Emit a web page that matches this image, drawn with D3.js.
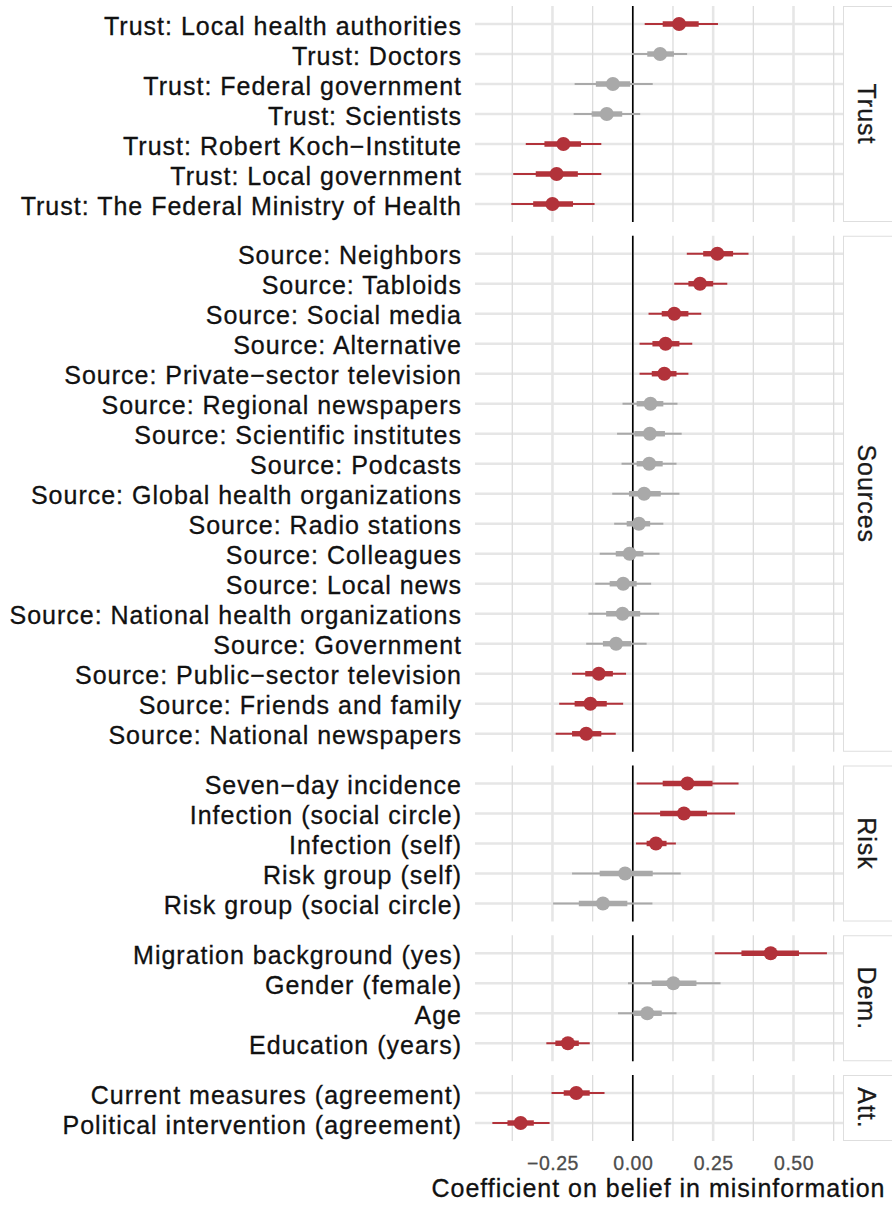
<!DOCTYPE html>
<html>
<head>
<meta charset="utf-8">
<script src="https://cdn.jsdelivr.net/npm/d3@7"></script>
<style>
  html, body { margin: 0; padding: 0; background: #ffffff; }
  svg { display: block; font-family: "Liberation Sans", Arial, Helvetica, sans-serif; }
</style>
</head>
<body>
<svg id="chart" width="892" height="1205"></svg>
<script>
// Facet groups, top to bottom
const panels = ["Trust", "Sources", "Risk", "Dem.", "Att."];

// Model terms, ordered top to bottom, with the facet each belongs to
const terms = [
  "Trust: Local health authorities", "Trust: Doctors", "Trust: Federal government",
  "Trust: Scientists", "Trust: Robert Koch\u2212Institute", "Trust: Local government",
  "Trust: The Federal Ministry of Health",
  "Source: Neighbors", "Source: Tabloids", "Source: Social media", "Source: Alternative",
  "Source: Private\u2212sector television", "Source: Regional newspapers",
  "Source: Scientific institutes", "Source: Podcasts", "Source: Global health organizations",
  "Source: Radio stations", "Source: Colleagues", "Source: Local news",
  "Source: National health organizations", "Source: Government",
  "Source: Public\u2212sector television", "Source: Friends and family",
  "Source: National newspapers",
  "Seven\u2212day incidence", "Infection (social circle)", "Infection (self)",
  "Risk group (self)", "Risk group (social circle)",
  "Migration background (yes)", "Gender (female)", "Age", "Education (years)",
  "Current measures (agreement)", "Political intervention (agreement)"
];
const termPanel = [
  "Trust", "Trust", "Trust", "Trust", "Trust", "Trust", "Trust",
  "Sources", "Sources", "Sources", "Sources", "Sources", "Sources", "Sources", "Sources", "Sources",
  "Sources", "Sources", "Sources", "Sources", "Sources", "Sources", "Sources", "Sources",
  "Risk", "Risk", "Risk", "Risk", "Risk",
  "Dem.", "Dem.", "Dem.", "Dem.",
  "Att.", "Att."
];

// Point estimates with 66% and 95% intervals
const estimate = [
  0.144, 0.085, -0.062, -0.081, -0.216, -0.237, -0.250,
  0.263, 0.209, 0.129, 0.102, 0.098, 0.055, 0.053, 0.051, 0.035,
  0.019, -0.010, -0.030, -0.032, -0.052, -0.106, -0.132, -0.145,
  0.170, 0.159, 0.072, -0.024, -0.093,
  0.429, 0.126, 0.045, -0.202,
  -0.176, -0.349
];
const lower66 = [
  0.093, 0.045, -0.115, -0.128, -0.275, -0.302, -0.310,
  0.219, 0.173, 0.090, 0.061, 0.059, 0.012, 0.005, 0.012, -0.012,
  -0.019, -0.053, -0.072, -0.083, -0.093, -0.148, -0.181, -0.189,
  0.093, 0.085, 0.043, -0.103, -0.168,
  0.338, 0.059, 0.002, -0.241,
  -0.215, -0.390
];
const upper66 = [
  0.205, 0.128, -0.008, -0.033, -0.161, -0.171, -0.186,
  0.312, 0.250, 0.173, 0.145, 0.136, 0.095, 0.100, 0.093, 0.087,
  0.054, 0.033, 0.012, 0.023, -0.005, -0.062, -0.081, -0.098,
  0.248, 0.231, 0.105, 0.062, -0.017,
  0.517, 0.198, 0.090, -0.168,
  -0.134, -0.308
];
const lower95 = [
  0.037, -0.003, -0.181, -0.184, -0.333, -0.372, -0.378,
  0.168, 0.129, 0.049, 0.021, 0.021, -0.032, -0.049, -0.035, -0.064,
  -0.058, -0.103, -0.117, -0.138, -0.145, -0.189, -0.229, -0.240,
  0.012, 0.002, 0.010, -0.189, -0.248,
  0.255, -0.015, -0.046, -0.269,
  -0.253, -0.437
];
const upper95 = [
  0.265, 0.169, 0.062, 0.023, -0.098, -0.098, -0.119,
  0.360, 0.294, 0.213, 0.185, 0.173, 0.139, 0.152, 0.136, 0.145,
  0.095, 0.083, 0.057, 0.082, 0.043, -0.021, -0.030, -0.053,
  0.329, 0.318, 0.134, 0.149, 0.061,
  0.604, 0.273, 0.136, -0.134,
  -0.088, -0.259
];

// Axis breaks and labels
const xBreaks = [-0.25, 0, 0.25, 0.5];
const xTitle = "Coefficient on belief in misinformation";

const rows = terms.map((t, i) => ({
  term: t, panel: termPanel[i], est: estimate[i],
  lo66: lower66[i], hi66: upper66[i], lo95: lower95[i], hi95: upper95[i],
  sig: lower95[i] > 0 || upper95[i] < 0
}));

const svg = d3.select("#chart");
const RED = "#b2323a", GREY = "#a9a9a9";
const panelLeft = 475, panelRight = 843;
const plotTop = 6, plotBottom = 1141, gap = 13.75;

const x = d3.scaleLinear().domain([-0.491, 0.654]).range([panelLeft, panelRight]);
const minorBreaks = [-0.375, -0.125, 0.125, 0.375, 0.625];

// shared text look: slightly heavier than the plain font
function labelStyle(sel, size, spacing, color) {
  sel.attr("fill", color)
    .attr("stroke", color).attr("stroke-width", 0.3)
    .style("font-size", size + "px")
    .style("letter-spacing", spacing + "px")
    .style("font-family", "'Liberation Sans', Arial, sans-serif");
}

// Panel heights follow the number of terms (discrete scale expanded by 0.6 on each side)
const counts = panels.map(p => rows.filter(r => r.panel === p).length);
const unit = (plotBottom - plotTop - gap * (panels.length - 1)) / d3.sum(counts, c => c + 0.2);

let panelTop = plotTop;
panels.forEach((p, pi) => {
  const data = rows.filter(r => r.panel === p);
  const h = (counts[pi] + 0.2) * unit;
  const y = d3.scalePoint().domain(data.map(d => d.term)).range([panelTop, panelTop + h]).padding(0.6);
  const g = svg.append("g");

  // grid
  g.selectAll(".hgrid").data(data).join("line")
    .attr("x1", panelLeft).attr("x2", panelRight)
    .attr("y1", d => y(d.term)).attr("y2", d => y(d.term))
    .attr("stroke", "#e6e6e6").attr("stroke-width", 2.4);
  g.selectAll(".vminor").data(minorBreaks).join("line")
    .attr("x1", d => x(d)).attr("x2", d => x(d))
    .attr("y1", panelTop).attr("y2", panelTop + h)
    .attr("stroke", "#dcdcdc").attr("stroke-width", 1.3);
  g.selectAll(".vmajor").data(xBreaks).join("line")
    .attr("x1", d => x(d)).attr("x2", d => x(d))
    .attr("y1", panelTop).attr("y2", panelTop + h)
    .attr("stroke", "#e6e6e6").attr("stroke-width", 2.6);

  // zero reference
  g.append("line")
    .attr("x1", x(0)).attr("x2", x(0)).attr("y1", panelTop).attr("y2", panelTop + h)
    .attr("stroke", "#000000").attr("stroke-width", 1.6);

  // intervals and points
  g.selectAll(".ci95").data(data).join("line")
    .attr("x1", d => x(d.lo95)).attr("x2", d => x(d.hi95))
    .attr("y1", d => y(d.term)).attr("y2", d => y(d.term))
    .attr("stroke", d => d.sig ? RED : GREY).attr("stroke-width", 2.1);
  g.selectAll(".ci66").data(data).join("line")
    .attr("x1", d => x(d.lo66)).attr("x2", d => x(d.hi66))
    .attr("y1", d => y(d.term)).attr("y2", d => y(d.term))
    .attr("stroke", d => d.sig ? RED : GREY).attr("stroke-width", 5.4);
  g.selectAll(".pt").data(data).join("circle")
    .attr("cx", d => x(d.est)).attr("cy", d => y(d.term)).attr("r", 7)
    .attr("fill", d => d.sig ? RED : GREY);

  // term labels
  const ax = g.append("g").attr("transform", `translate(${panelLeft},0)`)
    .call(d3.axisLeft(y).tickSize(0).tickPadding(13));
  ax.select(".domain").remove();
  ax.selectAll("text").attr("dy", "0.4em").call(labelStyle, 25, 1.0, "#111111");

  // facet strip
  g.append("rect")
    .attr("x", panelRight + 0.5).attr("y", panelTop + 0.5)
    .attr("width", 80).attr("height", h - 1)
    .attr("fill", "#ffffff").attr("stroke", "#dedede").attr("stroke-width", 1);
  g.append("text")
    .attr("transform", `translate(867,${panelTop + h / 2}) rotate(90)`)
    .attr("text-anchor", "middle").attr("dominant-baseline", "central")
    .text(p)
    .call(labelStyle, 25, 1.0, "#1a1a1a");

  panelTop += h + gap;
});

// x axis
const xa = svg.append("g").attr("transform", `translate(0,${plotBottom})`)
  .call(d3.axisBottom(x).tickValues(xBreaks).tickSize(0).tickPadding(15)
    .tickFormat(d => d3.format(".2f")(d).replace("-", "\u2212")));
xa.select(".domain").remove();
xa.selectAll("text").call(labelStyle, 19.5, 0.5, "#4d4d4d");

svg.append("text")
  .attr("x", (panelLeft + panelRight) / 2 - 0.5).attr("y", 1197)
  .attr("text-anchor", "middle")
  .text(xTitle)
  .call(labelStyle, 25, 1.0, "#111111");
</script>
</body>
</html>
